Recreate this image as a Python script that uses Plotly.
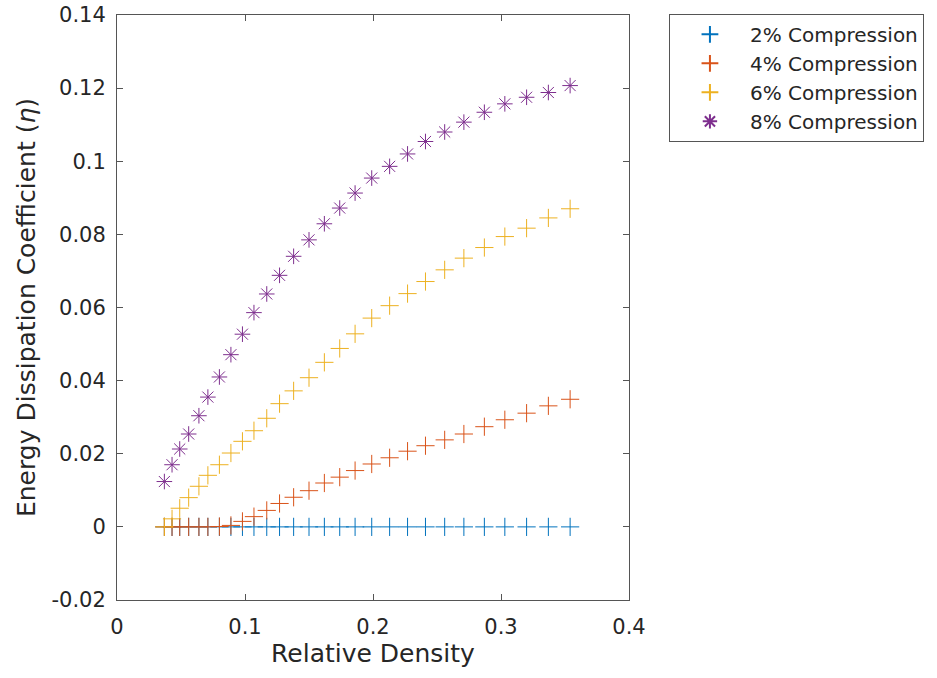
import plotly.graph_objects as go

rel_density = [0.037, 0.043, 0.049, 0.056, 0.064, 0.071, 0.080, 0.089, 0.098, 0.107,
               0.117, 0.127, 0.138, 0.150, 0.162, 0.174, 0.186, 0.199, 0.213, 0.227,
               0.241, 0.256, 0.271, 0.287, 0.303, 0.320, 0.337, 0.354]

comp2 = [0.0] * 28
comp4 = [0, 0, 0, 0, 0, 0, 0.0001, 0.0004, 0.0015, 0.0028, 0.0045, 0.0064, 0.0081, 0.0099,
         0.0120, 0.0136, 0.0154, 0.0172, 0.0189, 0.0207, 0.0222, 0.0238, 0.0254, 0.0274,
         0.0293, 0.0311, 0.0331, 0.0349]
comp6 = [0.0, 0.0022, 0.0051, 0.0080, 0.0111, 0.0141, 0.0170, 0.0202, 0.0234, 0.0263,
         0.0297, 0.0337, 0.0372, 0.0408, 0.0450, 0.0488, 0.0528, 0.0571, 0.0605, 0.0638,
         0.0671, 0.0703, 0.0735, 0.0764, 0.0794, 0.0817, 0.0845, 0.0870]
comp8 = [0.0124, 0.0170, 0.0213, 0.0254, 0.0304, 0.0355, 0.0410, 0.0471, 0.0527, 0.0586,
         0.0637, 0.0688, 0.0740, 0.0785, 0.0829, 0.0872, 0.0913, 0.0954, 0.0986, 0.1020,
         0.1054, 0.1080, 0.1107, 0.1134, 0.1157, 0.1175, 0.1188, 0.1207]

names = ["2% Compression", "4% Compression", "6% Compression", "8% Compression"]
colors = ["#0072BD", "#D95319", "#EDB120", "#7E2F8E"]
symbols = ["cross-thin-open", "cross-thin-open", "cross-thin-open", "asterisk-open"]
series = [comp2, comp4, comp6, comp8]

x_ticks = [0, 0.1, 0.2, 0.3, 0.4]
x_ticktext = ["0", "0.1", "0.2", "0.3", "0.4"]
y_ticks = [-0.02, 0, 0.02, 0.04, 0.06, 0.08, 0.1, 0.12, 0.14]
y_ticktext = ["-0.02", "0", "0.02", "0.04", "0.06", "0.08", "0.1", "0.12", "0.14"]

fig = go.Figure()
for name, color, sym, ys in zip(names, colors, symbols, series):
    fig.add_trace(go.Scatter(
        x=rel_density, y=ys, mode="markers", name=name,
        marker=dict(symbol=sym, size=13, color=color,
                    line=dict(color=color, width=1)),
    ))

axis_common = dict(
    showline=True, mirror="allticks", linecolor="#555555", linewidth=1,
    ticks="inside", ticklen=6, tickcolor="#555555", tickwidth=1,
    showgrid=False, zeroline=False, automargin=False,
    tickfont=dict(family="DejaVu Sans", size=21, color="#262626"),
)

fig.update_xaxes(range=[0, 0.4], tickvals=x_ticks, ticktext=x_ticktext,
                 ticklabelstandoff=8,
                 title=dict(text="Relative Density", standoff=6,
                            font=dict(family="DejaVu Sans", size=25, color="#262626")),
                 **axis_common)
fig.update_yaxes(range=[-0.02, 0.14], tickvals=y_ticks, ticktext=y_ticktext,
                 ticklabelstandoff=6,
                 title=dict(text="Energy Dissipation Coefficient (<i>η</i>)", standoff=8,
                            font=dict(family="DejaVu Sans", size=25, color="#262626")),
                 **axis_common)

fig.update_layout(
    width=937, height=678,
    margin=dict(l=117, r=308, t=15, b=78),
    paper_bgcolor="white", plot_bgcolor="white",
    font=dict(family="DejaVu Sans", color="#262626"),
    legend=dict(x=1.078, y=1.002, xanchor="left", yanchor="top",
                bordercolor="#555555", borderwidth=1, bgcolor="white",
                font=dict(family="DejaVu Sans", size=20, color="#262626"),
                tracegroupgap=0, itemsizing="constant", itemwidth=70),
    showlegend=True,
)

fig.write_html("out.html")
